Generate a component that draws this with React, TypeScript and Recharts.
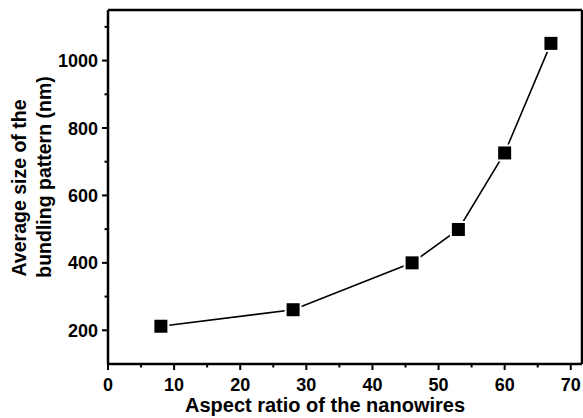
import { LineChart, Line, XAxis, YAxis, ReferenceLine } from "recharts";

const aspectRatio = [8, 28, 46, 53, 60, 67];
const patternSize = [212, 261, 400, 499, 726, 1051];
const xTicks = [0, 5, 10, 15, 20, 25, 30, 35, 40, 45, 50, 55, 60, 65, 70];
const yTicks = [200, 300, 400, 500, 600, 700, 800, 900, 1000, 1100];

const FONT = '"Liberation Sans", Arial, Helvetica, sans-serif';
const INK = "#000";

const data = aspectRatio.map((x, i) => ({ x, y: patternSize[i] }));

function XTick({ x, y, payload }: any) {
  const v = payload.value as number;
  const major = v % 10 === 0;
  return (
    <g>
      <line x1={x} y1={y} x2={x} y2={y + (major ? 6 : 3.5)} stroke={INK} strokeWidth={2} />
      {major && (
        <text x={x} y={y + 27} textAnchor="middle" fontFamily={FONT} fontWeight={700} fontSize={18} fill={INK}>
          {v}
        </text>
      )}
    </g>
  );
}

function YTick({ x, y, payload }: any) {
  const v = payload.value as number;
  const major = v % 200 === 0;
  return (
    <g>
      <line x1={x} y1={y} x2={x - (major ? 6 : 3.5)} y2={y} stroke={INK} strokeWidth={2} />
      {major && (
        <text x={x - 10} y={y + 6.5} textAnchor="end" fontFamily={FONT} fontWeight={700} fontSize={18} fill={INK}>
          {v}
        </text>
      )}
    </g>
  );
}

function SquareDot({ cx, cy }: any) {
  if (cx == null || cy == null) return null;
  return (
    <g>
      <rect x={cx - 8.5} y={cy - 8.5} width={17} height={17} fill="#fff" />
      <rect x={cx - 6.5} y={cy - 6.5} width={13} height={13} fill={INK} />
    </g>
  );
}

const titleStyle = { fontFamily: FONT, fontWeight: 700, fontSize: 19.5, fill: INK };

export default function App() {
  return (
    <div style={{ position: "absolute", left: 0, top: 0, width: 583, height: 418, background: "#fff" }}>
      <LineChart width={583} height={418} data={data} margin={{ top: 10, right: 1, bottom: 24, left: 0 }}>
        <XAxis
          dataKey="x"
          type="number"
          domain={[0, 71.7]}
          ticks={xTicks}
          interval={0}
          height={30}
          tickSize={0}
          tickMargin={0}
          tickLine={false}
          tick={<XTick />}
          axisLine={{ stroke: INK, strokeWidth: 2.5 }}
          allowDataOverflow
          label={() => (
            <text x={325} y={412} textAnchor="middle" {...titleStyle} fontSize={20}>
              Aspect ratio of the nanowires
            </text>
          )}
        />
        <YAxis
          dataKey="y"
          type="number"
          domain={[100, 1150]}
          ticks={yTicks}
          interval={0}
          width={108}
          tickSize={0}
          tickMargin={0}
          tickLine={false}
          tick={<YTick />}
          axisLine={{ stroke: INK, strokeWidth: 2.5 }}
          allowDataOverflow
          label={() => (
            <g>
              <text transform="rotate(-90, 26, 188)" x={26} y={188} textAnchor="middle" {...titleStyle}>
                Average size of the
              </text>
              <text transform="rotate(-90, 51, 177)" x={51} y={177} textAnchor="middle" {...titleStyle}>
                bundling pattern (nm)
              </text>
            </g>
          )}
        />
        <ReferenceLine y={1150} stroke={INK} strokeWidth={2.5} />
        <ReferenceLine x={71.7} stroke={INK} strokeWidth={2.5} />
        <Line
          dataKey="y"
          type="linear"
          stroke={INK}
          strokeWidth={1.6}
          dot={<SquareDot />}
          activeDot={false}
          isAnimationActive={false}
        />
      </LineChart>
    </div>
  );
}
